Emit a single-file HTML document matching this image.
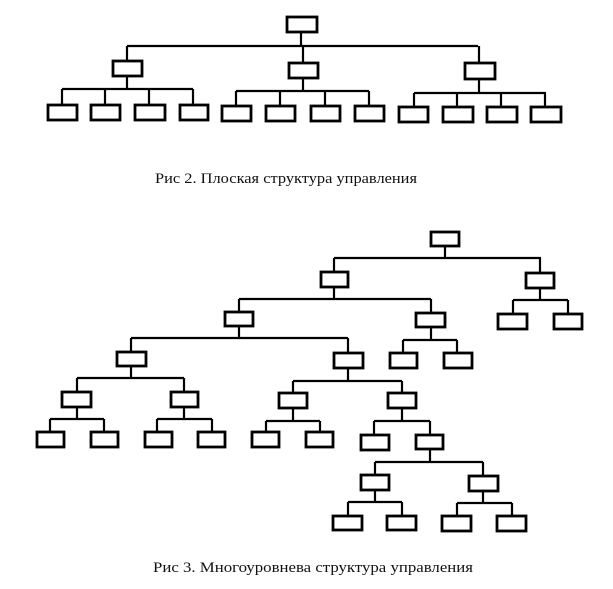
<!DOCTYPE html>
<html><head><meta charset="utf-8"><style>
html,body{margin:0;padding:0;background:#fff;}
svg{display:block}
text{font-family:"Liberation Serif",serif;font-size:15px;fill:#111}
</style></head><body>
<svg width="613" height="589" viewBox="0 0 613 589" xmlns="http://www.w3.org/2000/svg">
<g stroke="#000" stroke-width="2.2" fill="none">
<!-- Fig 2 lines -->
<path d="M301 32V46M127 46H478M127 46V60M303 46V63M479 46V62"/>
<path d="M127 76V89M62 89H193M62 89V105M105 89V105M149 89V105M193 89V105"/>
<path d="M303 78V91M236 91H369M236 91V105M280 91V105M325 91V105M369 91V105"/>
<path d="M479 79V93M457 93H546M414 93H546M414 93V107M457 93V107M501 93V107M545 93V107"/>
<!-- Fig 3 lines -->
<path d="M445 246V258M334 258H541M334 258V272M540 258V273"/>
<path d="M540 288V300M513 300H568M513 300V314M568 300V314"/>
<path d="M334 287V299M239 299H431M239 299V312M431 299V313"/>
<path d="M431 327V340M403 340H457M403 340V353M457 340V353"/>
<path d="M239 326V338M131 338H348M131 338V352M348 338V353"/>
<path d="M131 366V378M77 378H184M77 378V392M184 378V392"/>
<path d="M77 407V419M50 419H104M50 419V432M104 419V432"/>
<path d="M184 407V419M157 419H212M157 419V432M212 419V432"/>
<path d="M348 368V381M293 381H402M293 381V393M402 381V393"/>
<path d="M293 408V421M266 421H320M266 421V432M320 421V432"/>
<path d="M402 408V421M374 421H430M374 421V435M430 421V435"/>
<path d="M430 449V462M375 462H483M375 462V474M483 462V476"/>
<path d="M375 490V502M348 502H402M348 502V516M402 502V516"/>
<path d="M483 491V503M457 503H512M457 503V516M512 503V516"/>
</g>
<g stroke="#000" stroke-width="2.8" fill="#fff">
<!-- Fig 2 boxes -->
<rect x="287" y="17" width="30" height="15"/>
<rect x="113" y="61" width="29" height="15"/>
<rect x="289" y="63" width="29" height="15"/>
<rect x="465" y="63" width="30" height="16"/>
<rect x="48" y="105" width="29" height="15"/>
<rect x="91" y="105" width="29" height="15"/>
<rect x="135" y="105" width="30" height="15"/>
<rect x="180" y="105" width="28" height="15"/>
<rect x="222" y="106" width="29" height="15"/>
<rect x="266" y="106" width="29" height="15"/>
<rect x="311" y="106" width="29" height="15"/>
<rect x="355" y="106" width="29" height="15"/>
<rect x="399" y="107" width="29" height="15"/>
<rect x="443" y="107" width="30" height="15"/>
<rect x="487" y="107" width="30" height="15"/>
<rect x="531" y="107" width="30" height="15"/>
<!-- Fig 3 boxes -->
<rect x="431" y="232" width="28" height="14"/>
<rect x="321" y="272" width="27" height="15"/>
<rect x="526" y="273" width="28" height="15"/>
<rect x="498" y="314" width="29" height="15"/>
<rect x="554" y="314" width="28" height="15"/>
<rect x="225" y="312" width="28" height="14"/>
<rect x="416" y="313" width="29" height="14"/>
<rect x="390" y="353" width="27" height="15"/>
<rect x="444" y="353" width="28" height="15"/>
<rect x="117" y="352" width="29" height="14"/>
<rect x="334" y="353" width="29" height="15"/>
<rect x="62" y="392" width="29" height="15"/>
<rect x="171" y="392" width="27" height="15"/>
<rect x="37" y="432" width="27" height="15"/>
<rect x="91" y="432" width="27" height="15"/>
<rect x="145" y="432" width="27" height="15"/>
<rect x="198" y="432" width="27" height="15"/>
<rect x="279" y="393" width="28" height="15"/>
<rect x="388" y="393" width="28" height="15"/>
<rect x="252" y="432" width="27" height="15"/>
<rect x="306" y="432" width="27" height="15"/>
<rect x="361" y="435" width="28" height="15"/>
<rect x="416" y="435" width="27" height="14"/>
<rect x="361" y="475" width="28" height="15"/>
<rect x="469" y="476" width="29" height="15"/>
<rect x="333" y="516" width="29" height="14"/>
<rect x="387" y="516" width="29" height="14"/>
<rect x="442" y="516" width="29" height="15"/>
<rect x="497" y="516" width="29" height="15"/>
</g>
<text x="155" y="183" textLength="262" lengthAdjust="spacingAndGlyphs">Рис 2. Плоская структура управления</text>
<text x="153" y="572" textLength="320" lengthAdjust="spacingAndGlyphs">Рис 3. Многоуровнева структура управления</text>
</svg>
</body></html>
